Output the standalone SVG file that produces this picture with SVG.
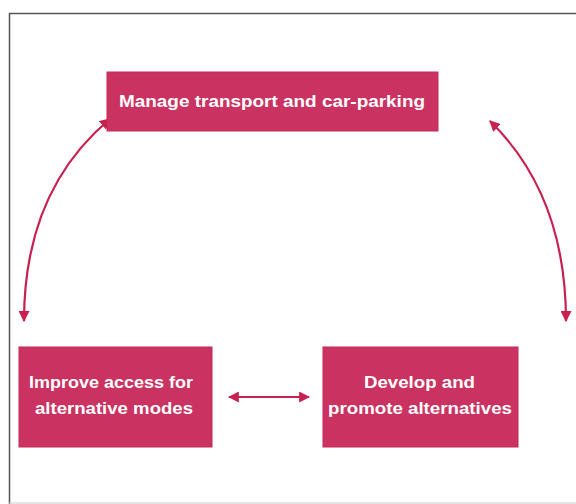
<svg xmlns="http://www.w3.org/2000/svg" width="576" height="504" viewBox="0 0 576 504">
<style>
.box{fill:#CA3361;stroke:#C42A58;stroke-width:1}
.lbl{fill:#fff;font-family:"Liberation Sans",Arial,sans-serif;font-weight:bold;font-size:17px;text-anchor:middle}
.con{fill:none;stroke:#C8204F;stroke-width:2.2}
</style>
<defs>
<marker id="ah" viewBox="0 0 10 10" refX="9" refY="5" markerWidth="5" markerHeight="5" orient="auto-start-reverse" markerUnits="strokeWidth">
<path d="M0,0 L10,5 L0,10 z" fill="#C8204F"/>
</marker>
</defs>
<rect x="0" y="0" width="576" height="504" fill="#fff"/>
<g id="frame">
<line x1="9.5" y1="13" x2="9.5" y2="504" stroke="#555" stroke-width="1.5"/>
<line x1="9" y1="13.5" x2="576" y2="13.5" stroke="#555" stroke-width="1.5"/>
<line x1="9" y1="503" x2="576" y2="503" stroke="#ccc" stroke-width="1"/>
</g>
<g id="connectors">
<path class="con" d="M24,321 C24,230 55,165 110,119" marker-start="url(#ah)" marker-end="url(#ah)"/>
<path class="con" d="M566,321 C566,230 535,165 490,121" marker-start="url(#ah)" marker-end="url(#ah)"/>
<line class="con" x1="229" y1="397" x2="309" y2="397" marker-start="url(#ah)" marker-end="url(#ah)"/>
</g>
<g id="node-manage">
<rect class="box" x="107" y="72" width="331" height="59"/>
<text class="lbl" x="272" y="107" textLength="306" lengthAdjust="spacingAndGlyphs">Manage transport and car-parking</text>
</g>
<g id="node-improve">
<rect class="box" x="19" y="347" width="193" height="100"/>
<text class="lbl" x="111" y="388" textLength="164" lengthAdjust="spacingAndGlyphs">Improve access for</text>
<text class="lbl" x="114" y="414" textLength="158" lengthAdjust="spacingAndGlyphs">alternative modes</text>
</g>
<g id="node-develop">
<rect class="box" x="323" y="347" width="195" height="100"/>
<text class="lbl" x="419.5" y="388" textLength="111" lengthAdjust="spacingAndGlyphs">Develop and</text>
<text class="lbl" x="420" y="414" textLength="184" lengthAdjust="spacingAndGlyphs">promote alternatives</text>
</g>
</svg>
